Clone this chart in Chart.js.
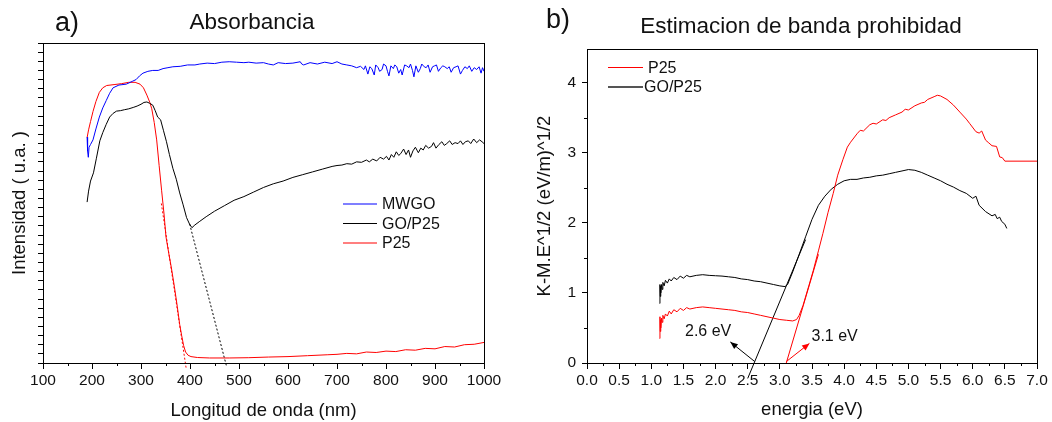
<!DOCTYPE html>
<html>
<head>
<meta charset="utf-8">
<script src="https://cdn.jsdelivr.net/npm/chart.js@4.4.0/dist/chart.umd.min.js"></script>
<style>
  html, body { margin: 0; padding: 0; background: #fff; }
  #wrap { position: relative; width: 1052px; height: 422px; }
  .box { position: absolute; top: 0; width: 526px; height: 422px; }
</style>
</head>
<body>
<div id="wrap">
  <div class="box" style="left:0"><canvas id="absChart" width="526" height="422"></canvas></div>
  <div class="box" style="left:526px"><canvas id="gapChart" width="526" height="422"></canvas></div>
</div>
<script>
// ---- a) Absorbancia : [wavelength nm, intensity (a.u., 0..35 tick units)]
const mwgo = [
  [190,24.7],[191,23.2],[192.5,22.5],[194,23.6],[197,23.9],[202,24.4],[208,25.6],[215,26.9],[222,27.9],[229,28.7],
  [236,29.5],[243,30.1],[255,30.4],[270,30.5],[282,30.8],[290,31.0],[297,31.4],[304,31.7],[314,31.9],[324,32.0],
  [335,32.0],[345,32.2],[355,32.3],[365,32.4],[380,32.45],[395,32.6],[410,32.6],[420,32.7],[435,32.8],[450,32.75],
  [465,32.9],[480,32.95],[495,32.9],[510,32.85],[520,32.9],[535,32.8],[550,32.85],[560,32.7],[570,32.6],[580,32.85],
  [595,32.75],[610,32.8],[625,32.95],[628,32.7],[632,32.6],[645,32.85],[660,32.7],[675,32.9],[690,32.75],[700,32.95],
  [710,32.7],[720,32.6],[730,32.5],[740,32.3],[748,32.45],[755,32.1],[758,32.5],[763,31.6],[767,32.4],[771,32.2],
  [776,31.5],[779,32.6],[784,32.3],[787,31.9],[792,32.1],[795,32.7],[800,32.5],[803,31.9],[806,31.4],[810,32.5],
  [815,32.2],[818,32.6],[822,32.4],[826,31.7],[830,32.1],[833,31.5],[838,32.6],[842,32.5],[847,32.3],[850,32.7],
  [854,32.0],[857,31.3],[861,32.5],[866,31.8],[870,32.2],[873,32.7],[878,32.4],[882,32.3],[886,32.6],[890,31.8],
  [895,32.4],[899,32.5],[903,32.6],[907,31.9],[912,32.3],[916,32.5],[920,32.4],[925,32.2],[929,32.4],[933,31.8],
  [938,32.3],[943,32.4],[947,32.5],[952,31.6],[956,32.0],[961,32.4],[966,32.2],[970,32.5],[975,31.9],[980,32.3],
  [985,32.1],[990,32.4],[994,31.7],[997,32.3],[1000,31.9]
];
const goP25 = [
  [190,17.6],[193,18.8],[197,19.9],[203,20.8],[209,22.4],[216,24.3],[222,25.2],[229,26.1],[236,26.9],[243,27.3],
  [250,27.55],[258,27.6],[266,27.7],[275,27.8],[284,27.95],[292,28.1],[300,28.3],[306,28.5],[312,28.55],[318,28.4],
  [324,28.2],[329,27.6],[334,26.9],[340,26.6],[346,25.4],[352,24.2],[358,22.8],[365,21.3],[372,20.1],[379,18.6],
  [386,17.3],[393,15.9],[399,15.2],[404,14.8],[410,15.1],[420,15.5],[433,16.0],[450,16.6],[470,17.2],[490,17.8],
  [510,18.2],[530,18.7],[550,19.2],[570,19.6],[590,19.9],[610,20.3],[630,20.6],[650,20.9],[670,21.2],[690,21.5],
  [700,21.6],[710,21.65],[720,21.8],[730,21.75],[740,22.0],[750,21.95],[760,22.2],[766,22.0],[773,22.3],[781,22.1],
  [788,22.5],[795,22.3],[801,22.6],[806,22.2],[811,22.8],[816,22.5],[821,23.1],[826,22.7],[830,22.9],[836,23.4],
  [841,22.8],[846,23.3],[850,22.5],[855,23.2],[860,23.6],[866,23.0],[871,23.5],[876,23.3],[881,23.8],[887,23.5],
  [893,23.7],[897,24.1],[902,23.5],[908,23.9],[914,24.2],[919,23.8],[924,24.0],[930,24.3],[935,23.9],[941,24.1],
  [947,24.0],[952,24.3],[957,23.9],[962,24.2],[968,24.3],[973,24.0],[979,24.5],[985,24.1],[991,24.4],[996,24.2],
  [1000,24.0]
];
const p25 = [
  [190,24.65],[193,25.5],[197,26.4],[202,27.5],[208,28.6],[215,29.6],[222,30.1],[230,30.35],[245,30.45],[260,30.55],
  [275,30.7],[288,30.7],[298,30.5],[305,30.1],[312,29.3],[318,28.5],[322,27.8],[327,26.3],[332,24.4],[337,21.6],
  [342,18.9],[347,16.3],[351,13.8],[356,12.2],[362,10.4],[368,8.4],[374,6.2],[379,4.2],[383,3.0],[387,1.9],
  [391,1.2],[396,0.85],[402,0.7],[415,0.6],[440,0.55],[480,0.55],[520,0.58],[560,0.65],[600,0.7],[640,0.8],
  [680,0.9],[700,0.95],[720,1.05],[740,1.0],[760,1.2],[780,1.15],[800,1.3],[820,1.25],[840,1.45],[860,1.4],
  [880,1.6],[900,1.55],[920,1.8],[940,1.75],[960,2.0],[980,2.05],[1000,2.25]
];
// dotted extrapolation lines of the absorption edges
const p25Edge = [[341.5,17.45],[392.5,-0.7]];
const goEdge = [[399.3,15.2],[474.5,-0.35]];

// ---- b) Estimacion de banda prohibida : [energy eV, K-M value]
const p25Km = [
  [1.13,0.35],[1.135,0.66],[1.14,0.45],[1.145,0.62],[1.15,0.5],[1.16,0.64],[1.17,0.58],[1.18,0.68],[1.2,0.63],[1.22,0.7],
  [1.25,0.67],[1.28,0.74],[1.31,0.7],[1.35,0.76],[1.4,0.73],[1.45,0.78],[1.5,0.75],[1.55,0.79],[1.6,0.77],[1.7,0.79],
  [1.8,0.8],[1.9,0.79],[2.0,0.78],[2.1,0.77],[2.2,0.76],[2.3,0.75],[2.4,0.73],[2.5,0.72],[2.6,0.7],[2.7,0.68],
  [2.8,0.66],[2.9,0.64],[3.0,0.62],[3.1,0.61],[3.2,0.6],[3.26,0.62],[3.3,0.68],[3.36,0.82],[3.45,1.1],[3.52,1.32],
  [3.6,1.6],[3.67,1.85],[3.75,2.15],[3.83,2.42],[3.9,2.68],[3.98,2.9],[4.05,3.08],[4.1,3.15],[4.2,3.27],[4.25,3.32],
  [4.3,3.31],[4.4,3.4],[4.45,3.42],[4.5,3.41],[4.6,3.47],[4.65,3.46],[4.7,3.5],[4.8,3.54],[4.9,3.58],[4.95,3.62],
  [5.0,3.61],[5.1,3.67],[5.2,3.71],[5.25,3.72],[5.3,3.76],[5.4,3.8],[5.45,3.82],[5.5,3.81],[5.6,3.76],[5.7,3.68],
  [5.8,3.58],[5.9,3.48],[5.95,3.42],[6.05,3.3],[6.1,3.28],[6.14,3.31],[6.2,3.18],[6.25,3.14],[6.3,3.1],[6.37,3.09],
  [6.42,2.94],[6.46,2.93],[6.5,2.88],[7.0,2.88]
];
const goP25Km = [
  [1.13,0.85],[1.135,1.12],[1.14,0.95],[1.145,1.1],[1.15,1.0],[1.16,1.12],[1.17,1.05],[1.18,1.15],[1.2,1.1],[1.22,1.18],
  [1.25,1.14],[1.28,1.2],[1.31,1.17],[1.35,1.22],[1.4,1.19],[1.45,1.24],[1.5,1.21],[1.55,1.25],[1.6,1.23],[1.7,1.25],
  [1.8,1.26],[1.9,1.25],[2.0,1.245],[2.1,1.24],[2.2,1.23],[2.3,1.22],[2.4,1.2],[2.5,1.19],[2.6,1.17],[2.7,1.16],
  [2.8,1.14],[2.9,1.12],[3.0,1.1],[3.08,1.09],[3.12,1.12],[3.2,1.3],[3.3,1.55],[3.4,1.8],[3.5,2.05],[3.6,2.25],
  [3.7,2.38],[3.8,2.48],[3.9,2.55],[4.0,2.6],[4.1,2.62],[4.2,2.62],[4.3,2.64],[4.4,2.65],[4.5,2.67],[4.6,2.68],
  [4.7,2.7],[4.8,2.72],[4.9,2.74],[5.0,2.76],[5.1,2.75],[5.2,2.72],[5.3,2.68],[5.4,2.64],[5.5,2.6],[5.6,2.55],
  [5.7,2.51],[5.8,2.46],[5.9,2.42],[6.0,2.35],[6.05,2.38],[6.1,2.25],[6.2,2.16],[6.3,2.1],[6.35,2.12],[6.38,2.06],
  [6.42,2.08],[6.45,2.02],[6.5,1.98],[6.53,1.92]
];
// tangent lines and arrows marking the band gaps
const goTangent = [[2.5,-0.22],[3.4,1.76]];
const p25Tangent = [[3.1,0],[3.6,1.55]];
const gapArrows = [
  { from: [2.61, 0.02], to: [2.23, 0.30], color: '#000' },
  { from: [3.10, 0.02], to: [3.46, 0.28], color: '#ff0000' }
];
const gapLabels = ['2.6 eV', '3.1 eV'];

const FONT = "'Liberation Sans', Arial, sans-serif";
const xy = arr => arr.map(p => ({ x: p[0], y: p[1] }));

function line(label, arr, color, extra) {
  return Object.assign({
    label: label, data: xy(arr), borderColor: color, borderWidth: 1,
    pointRadius: 0, tension: 0, fill: false
  }, extra || {});
}

// frame, minor ticks, in-plot legend, arrows and free texts
const decor = {
  id: 'decor',
  afterDraw(chart, args, o) {
    const { ctx, chartArea: a, scales } = chart;
    const sx = scales.x, sy = scales.y;
    ctx.save();
    ctx.strokeStyle = '#000';
    ctx.lineWidth = 1;
    ctx.strokeRect(Math.round(a.left) + 0.5, Math.round(a.top) + 0.5,
      Math.round(a.right - a.left), Math.round(a.bottom - a.top));

    ctx.beginPath();
    if (o.minorX) {
      for (let v = sx.min + o.minorX; v < sx.max; v += 2 * o.minorX) {
        const px = Math.round(sx.getPixelForValue(v)) + 0.5;
        ctx.moveTo(px, a.bottom); ctx.lineTo(px, a.bottom + o.minorLen);
      }
    }
    if (o.minorY) {
      for (let v = sy.min + o.minorY; v < sy.max; v += 2 * o.minorY) {
        const py = Math.round(sy.getPixelForValue(v)) + 0.5;
        ctx.moveTo(a.left, py); ctx.lineTo(a.left - o.minorLen, py);
      }
    }
    ctx.stroke();

    // legend inside the plot
    ctx.font = o.legend.font;
    ctx.textBaseline = 'middle';
    ctx.textAlign = 'left';
    o.legend.items.forEach((it, i) => {
      const ds = chart.data.datasets[it.index];
      const y = o.legend.y + i * o.legend.gap;
      ctx.strokeStyle = it.color || ds.borderColor;
      ctx.lineWidth = it.width || 1.2;
      ctx.beginPath();
      ctx.moveTo(o.legend.x, y); ctx.lineTo(o.legend.x + o.legend.len, y);
      ctx.stroke();
      ctx.fillStyle = '#111';
      ctx.fillText(ds.label, o.legend.x + o.legend.len + (it.textGap || 5), y + 1);
    });

    // arrows
    (o.arrows || []).forEach(ar => {
      const x1 = sx.getPixelForValue(ar.from[0]), y1 = sy.getPixelForValue(ar.from[1]);
      const x2 = sx.getPixelForValue(ar.to[0]), y2 = sy.getPixelForValue(ar.to[1]);
      const ang = Math.atan2(y2 - y1, x2 - x1);
      ctx.strokeStyle = ar.color; ctx.fillStyle = ar.color; ctx.lineWidth = 1;
      ctx.beginPath(); ctx.moveTo(x1, y1); ctx.lineTo(x2, y2); ctx.stroke();
      ctx.beginPath();
      ctx.moveTo(x2, y2);
      ctx.lineTo(x2 - 8 * Math.cos(ang - 0.4), y2 - 8 * Math.sin(ang - 0.4));
      ctx.lineTo(x2 - 8 * Math.cos(ang + 0.4), y2 - 8 * Math.sin(ang + 0.4));
      ctx.closePath(); ctx.fill();
    });

    // titles and labels
    ctx.textBaseline = 'alphabetic';
    ctx.fillStyle = '#111';
    (o.texts || []).forEach(t => {
      ctx.font = t.font;
      ctx.textAlign = t.align || 'left';
      ctx.fillText(t.text, t.x, t.y);
    });
    ctx.restore();
  }
};

function axisX(min, max, step, fmt, title, h, titlePad) {
  return {
    type: 'linear', min: min, max: max,
    afterFit: s => { s.height = h; },
    border: { display: false },
    grid: { drawOnChartArea: false, drawTicks: true, tickLength: 6, color: '#000' },
    ticks: { stepSize: step, autoSkip: false, maxRotation: 0, includeBounds: false, padding: 2,
      color: '#111', font: { family: FONT, size: 15.5 }, callback: fmt },
    title: { display: true, text: title, color: '#111', font: { family: FONT, size: 18.5 },
      padding: { top: 0, bottom: titlePad } }
  };
}

// ---- chart a
new Chart(document.getElementById('absChart'), {
  type: 'line',
  data: {
    datasets: [
      line('MWGO', mwgo, '#0000ff'),
      line('GO/P25', goP25, '#000000'),
      line('P25', p25, '#ff0000'),
      line('', p25Edge, '#ff0000', { borderDash: [2, 2], clip: false }),
      line('', goEdge, '#000000', { borderDash: [2, 2], clip: false })
    ]
  },
  options: {
    responsive: false, animation: false,
    layout: { padding: { left: 0, right: 42, top: 43, bottom: 0 } },
    plugins: {
      legend: { display: false }, tooltip: { enabled: false },
      decor: {
        minorX: 50, minorLen: 3,
        legend: { x: 343, y: 204, gap: 19.5, len: 34, font: '16px ' + FONT,
          items: [{ index: 0 }, { index: 1 }, { index: 2 }] },
        texts: [
          { text: 'a)', x: 55, y: 31, font: '27px ' + FONT },
          { text: 'Absorbancia', x: 252, y: 28.5, font: '22.5px ' + FONT, align: 'center' }
        ]
      }
    },
    scales: {
      x: axisX(100, 1000, 100, v => String(v), 'Longitud de onda (nm)', 59, 0),
      y: {
        type: 'linear', min: 0, max: 35,
        afterFit: s => { s.width = 43; },
        border: { display: false },
        grid: { drawOnChartArea: false, tickLength: 5, color: '#000' },
        ticks: { stepSize: 1, autoSkip: false, padding: 0, callback: () => '' },
        title: { display: true, text: 'Intensidad ( u.a. )', color: '#111',
          font: { family: FONT, size: 18.5 }, padding: { top: 9, bottom: 0 } }
      }
    }
  },
  plugins: [decor]
});

// ---- chart b
new Chart(document.getElementById('gapChart'), {
  type: 'line',
  data: {
    datasets: [
      line('P25', p25Km, '#ff0000'),
      line('GO/P25', goP25Km, '#000000'),
      line('', goTangent, '#000000', { clip: false }),
      line('', p25Tangent, '#ff0000')
    ]
  },
  options: {
    responsive: false, animation: false,
    layout: { padding: { left: 0, right: 15, top: 49, bottom: 0 } },
    plugins: {
      legend: { display: false }, tooltip: { enabled: false },
      decor: {
        minorX: 0.25, minorY: 0.5, minorLen: 3,
        legend: { x: 82, y: 67.5, gap: 19.5, len: 35, font: '16px ' + FONT,
          items: [{ index: 0, width: 1 }, { index: 1, color: '#555', width: 2, textGap: 1 }] },
        arrows: gapArrows,
        texts: [
          { text: 'b)', x: 20, y: 28, font: '27px ' + FONT },
          { text: 'Estimacion de banda prohibidad', x: 275, y: 33, font: '22.5px ' + FONT, align: 'center' },
          { text: gapLabels[0], x: 159, y: 336, font: '16px ' + FONT },
          { text: gapLabels[1], x: 285.5, y: 341, font: '16px ' + FONT }
        ]
      }
    },
    scales: {
      x: axisX(0, 7, 0.5, v => v.toFixed(1), 'energia (eV)', 59, 1),
      y: {
        type: 'linear', min: 0, max: 4.48,
        afterFit: s => { s.width = 61; },
        border: { display: false },
        grid: { drawOnChartArea: false, tickLength: 5, color: '#000' },
        ticks: { stepSize: 1, autoSkip: false, includeBounds: false, padding: 6,
          color: '#111', font: { family: FONT, size: 15.5 } },
        title: { display: true, text: 'K-M.E^1/2 (eV/m)^1/2', color: '#111',
          font: { family: FONT, size: 18.5 }, padding: { top: 8, bottom: 0 } }
      }
    }
  },
  plugins: [decor]
});
</script>
</body>
</html>
